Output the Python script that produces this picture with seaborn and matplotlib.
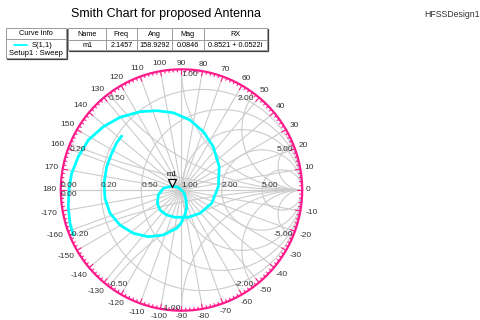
import numpy as np
import pandas as pd
import matplotlib
matplotlib.use("Agg")
import matplotlib.pyplot as plt
from matplotlib.patches import Rectangle
import seaborn as sns

# S(1,1) sweep as reflection coefficient (real / imaginary), in sweep order
s11_re = [-0.896, -0.924, -0.938, -0.932, -0.910, -0.855, -0.772, -0.648, -0.510,
          -0.344, -0.205, -0.068, 0.070, 0.181, 0.263, 0.313, 0.305, 0.250, 0.153,
          0.056, -0.054, -0.123, -0.178, -0.200, -0.192, -0.151, -0.081, -0.027,
          0.021, 0.037, 0.043, 0.025, -0.008, -0.040, -0.151, -0.275, -0.399,
          -0.510, -0.592, -0.634, -0.642, -0.620, -0.578, -0.537, -0.495]
s11_im = [-0.373, -0.276, -0.138, 0.006, 0.138, 0.276, 0.414, 0.524, 0.602,
          0.649, 0.657, 0.640, 0.580, 0.483, 0.359, 0.193, 0.027, -0.110, -0.193,
          -0.226, -0.226, -0.207, -0.166, -0.110, -0.041, 0.014, 0.033, 0.022,
          -0.022, -0.083, -0.149, -0.215, -0.282, -0.317, -0.373, -0.387, -0.359,
          -0.290, -0.193, -0.069, 0.056, 0.193, 0.304, 0.392, 0.447]

# marker m1
marker_name = "m1"
marker_freq = "2.1457"
marker_ang = 158.9292
marker_mag = 0.0846
marker_rx = "0.8521 + 0.0522i"

# impedance grid values and labels
grid_values = [0.2, 0.5, 1.0, 2.0, 5.0]
grid_labels = ["0.20", "0.50", "1.00", "2.00", "5.00"]
angle_ticks = list(range(-170, 190, 10))

title = "Smith Chart for proposed Antenna"
design_name = "HFSSDesign1"
trace_name = "S(1,1)"
setup_name = "Setup1 : Sweep"
table_cols = ["Name", "Freq", "Ang", "Mag", "RX"]

sns.set_theme(style="white")
plt.rcParams["font.family"] = ["Liberation Sans", "DejaVu Sans"]

W, H = 481, 320
CX, CY, R = 181.5, 190.0, 120.7
PX = 1.0 / R

fig = plt.figure(figsize=(W / 100, H / 100), dpi=100)
fig.patch.set_facecolor("white")
ax = fig.add_axes([0, 0, 1, 1])
ax.set_xlim(-CX / R, (W - CX) / R)
ax.set_ylim(-(H - CY) / R, CY / R)
ax.axis("off")

GRID = "#cccccc"
RING = "#ff1a8c"
TXT = "#333333"
glw = 0.8

# radial spokes every 10 degrees
for a in range(0, 360, 10):
    t = np.radians(a)
    ax.plot([0, np.cos(t)], [0, np.sin(t)], color=GRID, lw=glw, zorder=1)

# real axis
ax.plot([-1, 1], [0, 0], color=GRID, lw=glw, zorder=1)

th = np.linspace(0, 2 * np.pi, 721)
# constant resistance circles
for r in grid_values:
    c, rad = r / (1 + r), 1 / (1 + r)
    ax.plot(c + rad * np.cos(th), rad * np.sin(th), color=GRID, lw=glw, zorder=1)

# constant reactance arcs, clipped to the unit circle
for x in grid_values:
    for s in (1, -1):
        xc, yc, rad = 1.0, s / x, 1.0 / x
        px = xc + rad * np.cos(th)
        py = yc + rad * np.sin(th)
        inside = px ** 2 + py ** 2 <= 1.0005
        px = np.where(inside, px, np.nan)
        py = np.where(inside, py, np.nan)
        ax.plot(px, py, color=GRID, lw=glw, zorder=1)

# outer angle ring with ticks
ax.plot(np.cos(th), np.sin(th), color=RING, lw=1.6, zorder=3)
for a in range(0, 360, 2):
    t = np.radians(a)
    L = (5.0 if a % 10 == 0 else 2.5) * PX
    ax.plot([np.cos(t), (1 - L) * np.cos(t)], [np.sin(t), (1 - L) * np.sin(t)],
            color=RING, lw=0.8, zorder=3)

# angle labels
for a in angle_ticks:
    t = np.radians(a)
    s = str(a)
    off = (4 + 2.3 * len(s) * abs(np.cos(t)) + 2.2 * abs(np.sin(t))) * PX
    ax.text((1 + off) * np.cos(t), (1 + off) * np.sin(t), s, fontsize=6,
            color=TXT, ha="center", va="center", zorder=5)

# resistance labels along the real axis
ax.text(-1, 0.5 * PX, "0.00", fontsize=6, color=TXT, ha="left", va="bottom", zorder=5)
ax.text(-1, -1.5 * PX, "0.00", fontsize=6, color=TXT, ha="left", va="top", zorder=5)
for r, lab in zip(grid_values, grid_labels):
    ax.text((r - 1) / (r + 1), 0.5 * PX, lab, fontsize=6, color=TXT,
            ha="left", va="bottom", zorder=5)

# reactance labels at the rim
for x, lab in zip(grid_values, grid_labels):
    g = (1j * x - 1) / (1j * x + 1)
    ha = "left" if g.real <= 0.01 else "right"
    ax.text(g.real, g.imag - 2 * PX, lab, fontsize=6, color=TXT,
            ha=ha, va="top", zorder=5)
    gn = np.conj(g)
    ha = "left" if gn.real < -0.01 else "right"
    ax.text(gn.real, gn.imag - 1.5 * PX, "-" + lab, fontsize=6, color=TXT,
            ha=ha, va="bottom", zorder=5)

# S(1,1) trace
df = pd.DataFrame({"re": s11_re, "im": s11_im})
sns.lineplot(data=df, x="re", y="im", sort=False, estimator=None, color="#00ffff",
             lw=2.0, ax=ax, legend=False, zorder=4)
ax.set_xlabel("")
ax.set_ylabel("")

# marker m1
mg = marker_mag * np.exp(1j * np.radians(marker_ang))
ax.plot([mg.real], [mg.imag + 3.5 * PX], marker="v", ms=6, mfc="white", mec="black",
        mew=0.9, ls="none", zorder=6)
ax.text(mg.real, mg.imag + 8 * PX, marker_name, fontsize=5.5, color="black",
        ha="center", va="bottom", zorder=6)

# overlay in pixel coordinates for title, legend and marker table
ov = fig.add_axes([0, 0, 1, 1])
ov.set_xlim(0, W)
ov.set_ylim(H, 0)
ov.axis("off")
ov.patch.set_alpha(0)

ov.text(166.5, 13.5, title, fontsize=9, color="black", ha="center", va="center")
ov.text(480, 14.5, design_name, fontsize=6.3, color="#333333", ha="right", va="center")

# curve info box
ov.add_patch(Rectangle((7, 29), 59.7, 29.7, fc="none", ec="#404040", lw=0.9))
ov.add_patch(Rectangle((6, 28.3), 59.7, 29.7, fc="white", ec="#9a9a9a", lw=0.7))
ov.plot([6, 65.7], [38.8, 38.8], color="#9a9a9a", lw=0.7)
ov.text(35.8, 33.6, "Curve Info", fontsize=5.3, color="black", ha="center", va="center")
ov.plot([14, 27], [45.3, 45.3], color="#00ffff", lw=1.3)
ov.text(31.5, 45.5, trace_name, fontsize=5.5, color="black", ha="left", va="center")
ov.text(35.5, 53.5, setup_name, fontsize=5.5, color="black", ha="center", va="center")

# marker table
xs = [68.3, 106, 136.7, 171.7, 204, 266.7]
ov.add_patch(Rectangle((69.3, 29.3), xs[-1] - xs[0], 22, fc="none", ec="#404040", lw=0.9))
ov.add_patch(Rectangle((xs[0], 28.3), xs[-1] - xs[0], 22, fc="white", ec="#9a9a9a", lw=0.7))
ov.plot([xs[0], xs[-1]], [39.5, 39.5], color="#9a9a9a", lw=0.7)
for xv in xs[1:-1]:
    ov.plot([xv, xv], [28.3, 50.3], color="#9a9a9a", lw=0.7)
vals = [marker_name, marker_freq, f"{marker_ang:.4f}", f"{marker_mag:.4f}", marker_rx]
for i, (h, v) in enumerate(zip(table_cols, vals)):
    xc = (xs[i] + xs[i + 1]) / 2
    ov.text(xc, 34, h, fontsize=5.2, color="black", ha="center", va="center")
    ov.text(xc, 45.2, v, fontsize=5.2, color="black", ha="center", va="center")

fig.savefig("out.png", dpi=100, facecolor="white")
